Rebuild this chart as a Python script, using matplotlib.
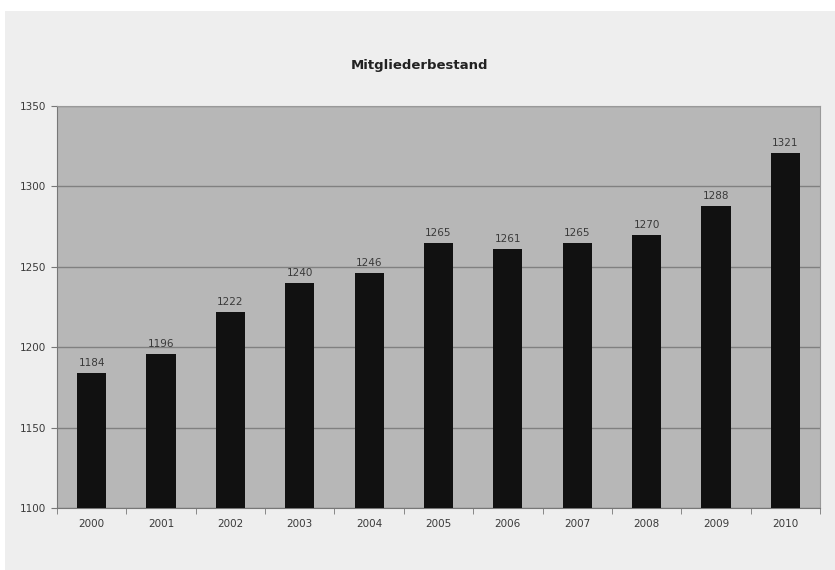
import matplotlib
matplotlib.use("Agg")
import matplotlib.pyplot as plt
from matplotlib.patches import Rectangle
from matplotlib.ticker import FixedLocator

years = ["2000", "2001", "2002", "2003", "2004", "2005", "2006", "2007", "2008", "2009", "2010"]
members = [1184, 1196, 1222, 1240, 1246, 1265, 1261, 1265, 1270, 1288, 1321]
title = "Mitgliederbestand"
y_ticks = [1100, 1150, 1200, 1250, 1300, 1350]

W, H = 835, 570
fig = plt.figure(figsize=(W / 100, H / 100), dpi=100)
fig.patch.set_facecolor("white")
fig.patches.append(Rectangle((5 / W, 0), 1 - 5 / W, 1 - 11 / H, transform=fig.transFigure,
                             facecolor="#eeeeee", edgecolor="none", zorder=-5))

left, right, top, bottom = 57, 820, 106, 508
ax = fig.add_axes([left / W, 1 - bottom / H, (right - left) / W, (bottom - top) / H])
ax.set_zorder(2)
ax.set_facecolor("#b7b7b7")

x = list(range(len(years)))
ax.bar(x, [m - 1100 for m in members], bottom=1100, width=0.42, color="#111111", zorder=3)
for xi, m in zip(x, members):
    ax.text(xi, m + 3, str(m), ha="center", va="bottom", fontsize=7.5, color="#3a3a3a", zorder=4)

ax.set_xlim(-0.5, len(years) - 0.5)
ax.set_ylim(1100, 1350)
ax.set_yticks(y_ticks)
ax.set_yticklabels([str(t) for t in y_ticks], fontsize=7.5, color="#3a3a3a")
ax.set_xticks(x)
ax.set_xticklabels(years, fontsize=7.5, color="#3a3a3a")
ax.tick_params(axis="x", length=0, pad=8)
ax.xaxis.set_minor_locator(FixedLocator([i + 0.5 for i in range(-1, len(years))]))
ax.tick_params(axis="x", which="minor", length=4, color="#777777", direction="out")
ax.tick_params(axis="y", length=4, color="#777777", pad=4)
ax.grid(axis="y", color="#808080", linewidth=1, zorder=1)
ax.set_axisbelow(True)
for s in ["top", "right"]:
    ax.spines[s].set_color("#999999")
for s in ["left", "bottom"]:
    ax.spines[s].set_color("#777777")

fig.text(419 / W, 1 - 65 / H, title, ha="center", va="center",
         fontsize=9.5, fontweight="bold", color="#222222")

fig.savefig("out.png", dpi=100)
